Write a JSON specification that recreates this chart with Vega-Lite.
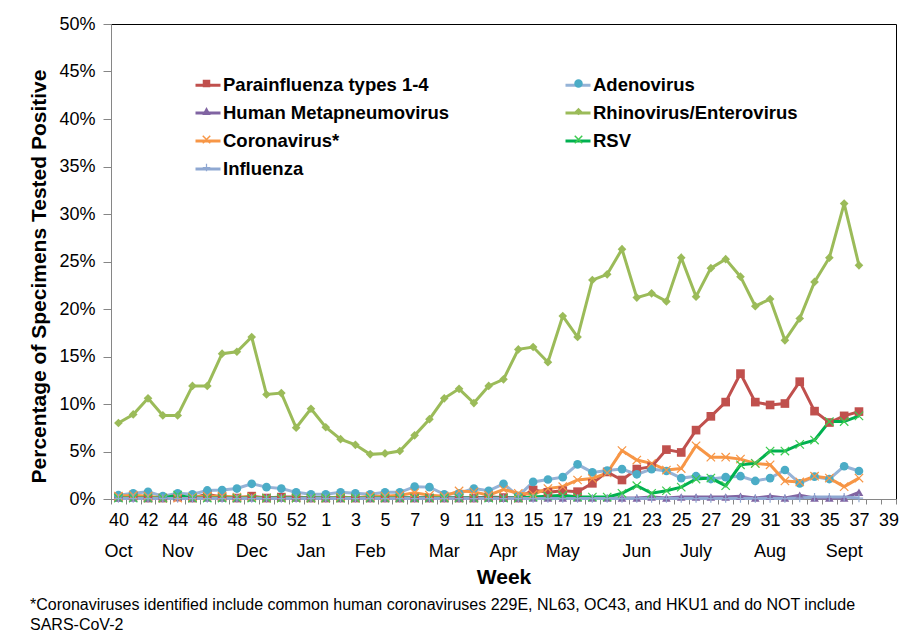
{
  "$schema": "https://vega.github.io/schema/vega-lite/v6.json",
  "width": 785,
  "height": 475,
  "autosize": "none",
  "padding": {"left": 111, "top": 24, "right": 12, "bottom": 134},
  "background": "white",
  "config": {
    "font": "Liberation Sans",
    "view": {"stroke": "#000000", "strokeWidth": 1},
    "axis": {"labelColor": "#000000", "titleColor": "#000000", "domainColor": "#868686", "tickColor": "#868686", "grid": false}
  },
  "title": {
    "text": ["*Coronaviruses identified include common human coronaviruses 229E, NL63, OC43, and HKU1 and do NOT include", "SARS-CoV-2"],
    "orient": "bottom", "anchor": "start", "frame": "group", "dx": -81, "offset": 10,
    "fontSize": 16, "fontWeight": "normal", "lineHeight": 20, "color": "#000000", "font": "Liberation Sans"
  },
  "data": {"values": [
    {"wk":"40","P":0.2,"A":0.4,"H":0.1,"R":8.0,"C":0.3,"S":0.1,"I":0.05},
    {"wk":"41","P":0.3,"A":0.6,"H":0.1,"R":8.9,"C":0.4,"S":0.1,"I":0.05},
    {"wk":"42","P":0.1,"A":0.75,"H":0.1,"R":10.6,"C":0.3,"S":0.1,"I":0.05},
    {"wk":"43","P":0.1,"A":0.3,"H":0.1,"R":8.8,"C":0.1,"S":0.1,"I":0.05},
    {"wk":"44","P":0.2,"A":0.6,"H":0.2,"R":8.8,"C":0.1,"S":0.4,"I":0.05},
    {"wk":"45","P":0.1,"A":0.5,"H":0.1,"R":11.9,"C":0.2,"S":0.1,"I":0.05},
    {"wk":"46","P":0.5,"A":0.9,"H":0.1,"R":11.9,"C":0.3,"S":0.1,"I":0.05},
    {"wk":"47","P":0.2,"A":0.95,"H":0.1,"R":15.3,"C":0.3,"S":0.1,"I":0.05},
    {"wk":"48","P":0.1,"A":1.1,"H":0.1,"R":15.5,"C":0.2,"S":0.1,"I":0.05},
    {"wk":"49","P":0.3,"A":1.6,"H":0.1,"R":17.05,"C":0.2,"S":0.1,"I":0.05},
    {"wk":"50","P":0.1,"A":1.25,"H":0.1,"R":11.0,"C":0.1,"S":0.1,"I":0.05},
    {"wk":"51","P":0.2,"A":1.1,"H":0.1,"R":11.15,"C":0.1,"S":0.1,"I":0.05},
    {"wk":"52","P":0.2,"A":0.7,"H":0.1,"R":7.5,"C":0.1,"S":0.1,"I":0.05},
    {"wk":"53","P":0.1,"A":0.5,"H":0.1,"R":9.5,"C":0.1,"S":0.1,"I":0.05},
    {"wk":"1","P":0.1,"A":0.5,"H":0.1,"R":7.55,"C":0.1,"S":0.1,"I":0.05},
    {"wk":"2","P":0.1,"A":0.7,"H":0.1,"R":6.3,"C":0.2,"S":0.1,"I":0.05},
    {"wk":"3","P":0.1,"A":0.6,"H":0.1,"R":5.7,"C":0.1,"S":0.1,"I":0.05},
    {"wk":"4","P":0.1,"A":0.5,"H":0.1,"R":4.7,"C":0.3,"S":0.1,"I":0.05},
    {"wk":"5","P":0.1,"A":0.7,"H":0.1,"R":4.8,"C":0.3,"S":0.1,"I":0.05},
    {"wk":"6","P":0.1,"A":0.7,"H":0.1,"R":5.05,"C":0.4,"S":0.1,"I":0.05},
    {"wk":"7","P":0.1,"A":1.3,"H":0.1,"R":6.7,"C":0.65,"S":0.1,"I":0.05},
    {"wk":"8","P":0.1,"A":1.25,"H":0.1,"R":8.4,"C":0.4,"S":0.1,"I":0.05},
    {"wk":"9","P":0.1,"A":0.5,"H":0.1,"R":10.6,"C":0.3,"S":0.1,"I":0.05},
    {"wk":"10","P":0.1,"A":0.6,"H":0.1,"R":11.6,"C":0.85,"S":0.1,"I":0.05},
    {"wk":"11","P":0.1,"A":1.1,"H":0.1,"R":10.1,"C":0.75,"S":0.1,"I":0.05},
    {"wk":"12","P":0.2,"A":0.87,"H":0.1,"R":11.9,"C":0.4,"S":0.1,"I":0.05},
    {"wk":"13","P":0.15,"A":1.6,"H":0.1,"R":12.6,"C":1.0,"S":0.1,"I":0.05},
    {"wk":"14","P":0.1,"A":0.3,"H":0.1,"R":15.75,"C":0.6,"S":0.1,"I":0.05},
    {"wk":"15","P":0.95,"A":1.8,"H":0.1,"R":16.0,"C":0.5,"S":0.2,"I":0.05},
    {"wk":"16","P":0.7,"A":2.05,"H":0.1,"R":14.4,"C":1.1,"S":0.3,"I":0.05},
    {"wk":"17","P":0.87,"A":2.3,"H":0.1,"R":19.26,"C":1.3,"S":0.4,"I":0.05},
    {"wk":"18","P":0.77,"A":3.65,"H":0.1,"R":17.05,"C":2.0,"S":0.2,"I":0.05},
    {"wk":"19","P":1.65,"A":2.8,"H":0.1,"R":23.05,"C":2.15,"S":0.2,"I":0.05},
    {"wk":"20","P":2.85,"A":3.0,"H":0.1,"R":23.65,"C":2.75,"S":0.2,"I":0.05},
    {"wk":"21","P":2.0,"A":3.15,"H":0.1,"R":26.3,"C":5.1,"S":0.6,"I":0.05},
    {"wk":"22","P":3.15,"A":2.6,"H":0.1,"R":21.2,"C":4.1,"S":1.4,"I":0.05},
    {"wk":"23","P":3.4,"A":3.15,"H":0.2,"R":21.65,"C":3.75,"S":0.6,"I":0.05},
    {"wk":"24","P":5.2,"A":2.95,"H":0.1,"R":20.8,"C":3.05,"S":0.87,"I":0.05},
    {"wk":"25","P":4.9,"A":2.2,"H":0.2,"R":25.4,"C":3.2,"S":1.25,"I":0.05},
    {"wk":"26","P":7.25,"A":2.4,"H":0.2,"R":21.3,"C":5.6,"S":2.1,"I":0.05},
    {"wk":"27","P":8.7,"A":2.1,"H":0.2,"R":24.3,"C":4.4,"S":2.2,"I":0.05},
    {"wk":"28","P":10.2,"A":2.3,"H":0.2,"R":25.25,"C":4.4,"S":1.4,"I":0.05},
    {"wk":"29","P":13.2,"A":2.4,"H":0.3,"R":23.4,"C":4.2,"S":3.6,"I":0.05},
    {"wk":"30","P":10.2,"A":1.9,"H":0.1,"R":20.3,"C":3.75,"S":3.75,"I":0.05},
    {"wk":"31","P":9.9,"A":2.2,"H":0.3,"R":21.05,"C":3.6,"S":5.05,"I":0.05},
    {"wk":"32","P":10.05,"A":3.05,"H":0.1,"R":16.7,"C":1.9,"S":5.05,"I":0.05},
    {"wk":"33","P":12.35,"A":1.65,"H":0.4,"R":19.0,"C":1.8,"S":5.75,"I":0.1},
    {"wk":"34","P":9.25,"A":2.35,"H":0.1,"R":22.85,"C":2.4,"S":6.2,"I":0.2},
    {"wk":"35","P":8.05,"A":2.1,"H":0.1,"R":25.4,"C":2.2,"S":8.15,"I":0.2},
    {"wk":"36","P":8.75,"A":3.45,"H":0.1,"R":31.1,"C":1.3,"S":8.15,"I":0.2},
    {"wk":"37","P":9.2,"A":2.95,"H":0.7,"R":24.6,"C":2.2,"S":8.75,"I":0.1}
  ]},
  "transform": [{"fold": ["P", "A", "H", "R", "C", "S", "I"], "as": ["series", "value"]}],
  "encoding": {
    "y": {
      "field": "value", "type": "quantitative",
      "scale": {"domain": [0, 50], "nice": false, "zero": true},
      "axis": {
        "values": [0, 5, 10, 15, 20, 25, 30, 35, 40, 45, 50],
        "labelExpr": "datum.value + '%'",
        "labelFontSize": 18, "labelPadding": 8, "tickSize": 8,
        "title": "Percentage of Specimens Tested Positive",
        "titleFontSize": 21, "titleFontWeight": "bold", "titlePadding": 9, "titleY": 252
      }
    }
  },
  "layer": [
    {
      "mark": {"type": "line", "strokeWidth": 3},
      "encoding": {
        "x": {
          "field": "wk", "type": "ordinal",
          "scale": {"domain": ["40","41","42","43","44","45","46","47","48","49","50","51","52","53","1","2","3","4","5","6","7","8","9","10","11","12","13","14","15","16","17","18","19","20","21","22","23","24","25","26","27","28","29","30","31","32","33","34","35","36","37","38","39"], "paddingInner": 0, "paddingOuter": 0},
          "axis": {
            "orient": "bottom", "title": null, "labelAngle": 0, "labelOverlap": false,
            "labelExpr": "(toNumber(datum.value) >= 40 ? toNumber(datum.value) % 2 == 0 : toNumber(datum.value) % 2 == 1) ? datum.label : ''",
            "labelFontSize": 18, "labelPadding": 7, "tickSize": 5, "tickBand": "extent"
          }
        },
        "color": {
          "field": "series", "type": "nominal",
          "scale": {"domain": ["P", "H", "C", "I", "A", "R", "S"], "range": ["#C0504D", "#8064A2", "#F79646", "#8FA8D2", "#95B3D7", "#9BBB59", "#00B050"]},
          "legend": {
            "orient": "none", "legendX": 83, "legendY": 47, "columns": 2, "title": null,
            "padding": 0, "symbolType": "stroke", "symbolSize": 625, "symbolStrokeWidth": 3,
            "labelFontSize": 18.5, "labelFontWeight": "bold", "labelColor": "#000000", "labelOffset": 1,
            "rowPadding": 4, "columnPadding": 109, "labelLimit": 400,
            "labelExpr": "datum.value == 'P' ? 'Parainfluenza types 1-4' : datum.value == 'A' ? 'Adenovirus' : datum.value == 'H' ? 'Human Metapneumovirus' : datum.value == 'R' ? 'Rhinovirus/Enterovirus' : datum.value == 'C' ? 'Coronavirus*' : datum.value == 'S' ? 'RSV' : 'Influenza'"
          }
        }
      }
    },
    {
      "transform": [{"filter": {"field": "series", "oneOf": ["P", "A", "H", "R"]}}],
      "mark": {"type": "point", "filled": true, "opacity": 1, "size": 75},
      "encoding": {
        "x": {
          "field": "wk", "type": "ordinal",
          "axis": {
            "orient": "bottom", "title": "Week", "titleFontSize": 21, "titleFontWeight": "bold", "titlePadding": 6,
            "labelAngle": 0, "labelOverlap": false, "domain": false, "ticks": false, "labelPadding": 43, "labelFontSize": 18,
            "values": ["40", "44", "49", "53", "4", "9", "13", "17", "22", "26", "31", "36"],
            "labelExpr": "datum.value == '40' ? 'Oct' : datum.value == '44' ? 'Nov' : datum.value == '49' ? 'Dec' : datum.value == '53' ? 'Jan' : datum.value == '4' ? 'Feb' : datum.value == '9' ? 'Mar' : datum.value == '13' ? 'Apr' : datum.value == '17' ? 'May' : datum.value == '22' ? 'Jun' : datum.value == '26' ? 'July' : datum.value == '31' ? 'Aug' : 'Sept'"
          }
        },
        "color": {"field": "series", "type": "nominal", "legend": null,
          "scale": {"domain": ["P", "A", "H", "R"], "range": ["#C0504D", "#4BACC6", "#8064A2", "#9BBB59"]}},
        "shape": {"field": "series", "type": "nominal", "legend": null,
          "scale": {"domain": ["P", "A", "H", "R"], "range": ["square", "circle", "triangle-up", "diamond"]}}
      }
    },
    {
      "transform": [{"filter": {"field": "series", "oneOf": ["C", "S", "I"]}}],
      "mark": {"type": "point", "filled": false, "opacity": 1, "size": 70, "strokeWidth": 1.2},
      "encoding": {
        "x": {"field": "wk", "type": "ordinal", "axis": null},
        "color": {"field": "series", "type": "nominal", "legend": null,
          "scale": {"domain": ["C", "S", "I"], "range": ["#F79646", "#3DCB50", "#8FA8D2"]}},
        "shape": {"field": "series", "type": "nominal", "legend": null,
          "scale": {"domain": ["C", "S", "I"], "range": ["M-1,-1L1,1M1,-1L-1,1", "M-1,-1L1,1M1,-1L-1,1", "M-1,0L1,0M0,-1L0,1"]}}
      }
    },
    {
      "mark": {"type": "point", "filled": true, "opacity": 0},
      "encoding": {
        "x": {"field": "wk", "type": "ordinal", "axis": null},
        "color": {"field": "series", "type": "nominal",
          "scale": {"domain": ["P", "H", "C", "I", "A", "R", "S"], "range": ["#C0504D", "#8064A2", "#F79646", "#8FA8D2", "#4BACC6", "#9BBB59", "#3DCB50"]},
          "legend": {
            "orient": "none", "legendX": 83, "legendY": 47, "columns": 2, "title": null,
            "padding": 0, "symbolSize": 625, "symbolOpacity": 1, "symbolStrokeWidth": 0,
            "labelFontSize": 18.5, "labelOffset": 0, "labelExpr": "''",
            "rowPadding": 3, "columnPadding": 347
          }
        },
        "shape": {"field": "series", "type": "nominal",
          "scale": {"domain": ["P", "H", "C", "I", "A", "R", "S"], "range": [
            "M-1,0L1,0Z M0,-1L0,1Z M-0.3,-0.3H0.3V0.3H-0.3Z",
            "M-1,0L1,0Z M0,-1L0,1Z M0,-0.36L0.34,0.28L-0.34,0.28Z",
            "M-1,0L1,0Z M0,-1L0,1Z M-0.258,-0.342L0.342,0.258L0.258,0.342L-0.342,-0.258Z M-0.342,0.258L0.258,-0.342L0.342,-0.258L-0.258,0.342Z",
            "M-1,0L1,0Z M0,-1L0,1Z M-0.3,-0.05H0.3V0.05H-0.3Z M-0.05,-0.3H0.05V0.3H-0.05Z",
            "M-1,0L1,0Z M0,-1L0,1Z M0.34,0A0.34,0.34 0 1,1 -0.34,0A0.34,0.34 0 1,1 0.34,0Z",
            "M-1,0L1,0Z M0,-1L0,1Z M0,-0.3L0.3,0L0,0.3L-0.3,0Z",
            "M-1,0L1,0Z M0,-1L0,1Z M-0.258,-0.342L0.342,0.258L0.258,0.342L-0.342,-0.258Z M-0.342,0.258L0.258,-0.342L0.342,-0.258L-0.258,0.342Z"
          ]},
          "legend": {
            "orient": "none", "legendX": 83, "legendY": 47, "columns": 2, "title": null,
            "padding": 0, "symbolSize": 625, "symbolOpacity": 1, "symbolStrokeWidth": 0,
            "labelFontSize": 18.5, "labelOffset": 0, "labelExpr": "''",
            "rowPadding": 3, "columnPadding": 347
          }
        }
      }
    }
  ],
  "resolve": {"scale": {"color": "independent", "shape": "independent"}, "axis": {"x": "independent"}}
}
